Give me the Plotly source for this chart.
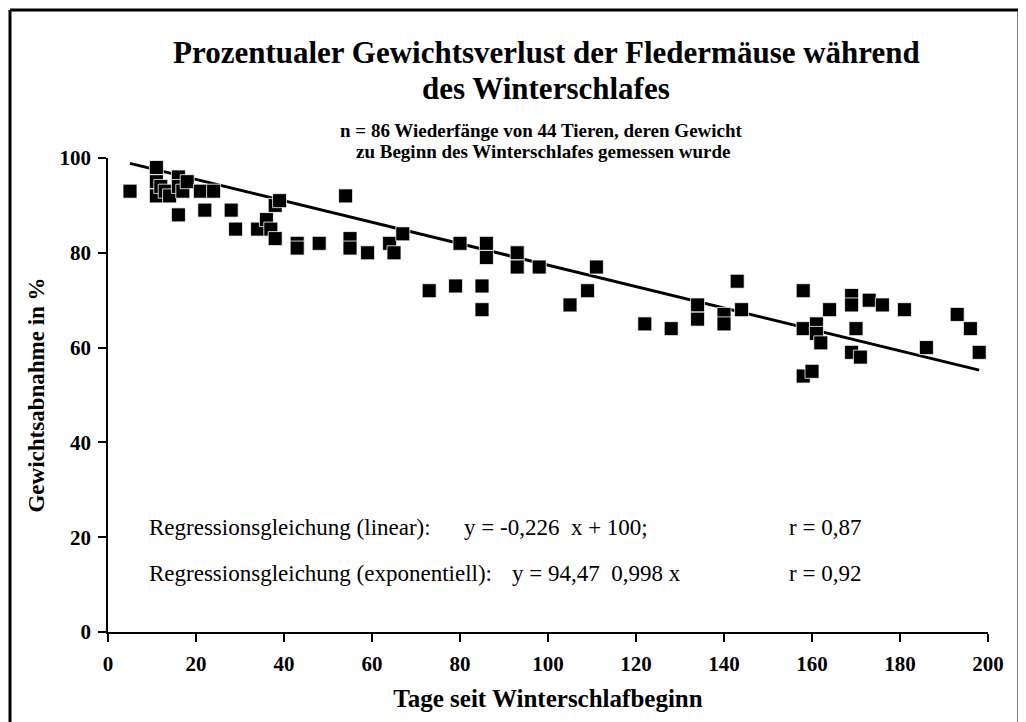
import plotly.graph_objects as go

# Data
tage = [5, 11, 11, 11, 12, 13, 14, 16, 16, 17, 18, 16, 21, 24, 22, 28, 29, 34, 36, 37,
        38, 38, 39, 43, 43, 48, 54, 55, 55, 59, 64, 65, 67, 73, 79, 80, 85, 85, 86, 86,
        93, 93, 98, 105, 109, 111, 122, 128, 134, 134, 140, 140, 143, 144, 158, 158, 161, 161, 162, 158,
        160, 164, 169, 169, 170, 169, 171, 173, 176, 181, 186, 193, 196, 198]
gewicht = [93, 98, 95, 92, 94, 93, 92, 96, 94, 93, 95, 88, 93, 93, 89, 89, 85, 85, 87, 85,
           83, 90, 91, 82, 81, 82, 92, 83, 81, 80, 82, 80, 84, 72, 73, 82, 73, 68, 82, 79,
           80, 77, 77, 69, 72, 77, 65, 64, 69, 66, 67, 65, 74, 68, 72, 64, 65, 63, 61, 54,
           55, 68, 71, 69, 64, 59, 58, 70, 69, 68, 60, 67, 64, 59]

slope = -0.226
intercept = 100.0
line_x = [min(tage), max(tage)]
line_y = [slope * v + intercept for v in line_x]

x_ticks = [0, 20, 40, 60, 80, 100, 120, 140, 160, 180, 200]
y_ticks = [0, 20, 40, 60, 80, 100]

FONT = "Liberation Serif"

# page offset (browser body margin) and geometry in screen pixels
OFF = 8
W, H = 1026 - OFF, 722 - OFF
X0, X1, Y0, Y1 = 108, 988, 632, 158   # plot area in screen pixels
L, R, T, B = X0 - OFF, 1026 - X1, Y1 - OFF, 722 - Y0
PW, PH = X1 - X0, Y0 - Y1


def px(xs):
    return (xs - X0) / PW


def py(ys):
    return (Y0 - ys) / PH


fig = go.Figure()
fig.add_trace(go.Scatter(x=line_x, y=line_y, mode="lines",
                         line=dict(color="black", width=3), showlegend=False,
                         cliponaxis=False))
fig.add_trace(go.Scatter(x=tage, y=gewicht, mode="markers",
                         marker=dict(symbol="square", size=14, color="black",
                                     line=dict(color="white", width=0.8)),
                         showlegend=False, cliponaxis=False))

tickfont = dict(family=FONT, size=21, color="black", weight="bold")
fig.update_layout(
    width=W, height=H,
    margin=dict(l=L, r=R, t=T, b=B, autoexpand=False),
    paper_bgcolor="white", plot_bgcolor="white",
    font=dict(family=FONT, color="black"),
    xaxis=dict(range=[0, 200], tickvals=x_ticks, showgrid=False, zeroline=False,
               automargin=False,
               showline=True, linecolor="black", linewidth=2,
               ticks="outside", ticklen=8, tickwidth=1.5, tickcolor="black",
               tickfont=tickfont, ticklabelstandoff=4,
               title=dict(text="Tage seit Winterschlafbeginn",
                          font=dict(family=FONT, size=25, color="black", weight="bold"),
                          standoff=14)),
    yaxis=dict(range=[0, 100], tickvals=y_ticks, showgrid=False, zeroline=False,
               automargin=False,
               showline=True, linecolor="black", linewidth=1.5,
               ticks="outside", ticklen=8, tickwidth=1.5, tickcolor="black",
               tickfont=tickfont, ticklabelstandoff=3,
               title=dict(text="Gewichtsabnahme in %",
                          font=dict(family=FONT, size=23, color="black", weight="bold"),
                          standoff=8)),
)

ann = [
    ("<b>Prozentualer Gewichtsverlust der Fledermäuse während</b>", 546, 53, 31, "center"),
    ("<b>des Winterschlafes</b>", 546, 88, 31, "center"),
    ("<b>n = 86 Wiederfänge von 44 Tieren, deren Gewicht</b>", 541, 131, 19, "center"),
    ("<b>zu Beginn des Winterschlafes gemessen wurde</b>", 543, 152, 19, "center"),
    ("Regressionsgleichung (linear):", 147, 527, 23, "left"),
    ("y = -0,226  x + 100;", 462, 527, 23, "left"),
    ("r = 0,87", 787, 527, 23, "left"),
    ("Regressionsgleichung (exponentiell):", 147, 573, 23, "left"),
    ("y = 94,47  0,998 x", 510, 573, 23, "left"),
    ("r = 0,92", 787, 573, 23, "left"),
]
for text, xs, ys, size, anchor in ann:
    fig.add_annotation(text=text, xref="paper", yref="paper", x=px(xs), y=py(ys),
                       xanchor=anchor, yanchor="middle", showarrow=False,
                       font=dict(family=FONT, size=size, color="black"))

# outer frame of the original figure (bottom edge runs off the picture)
FL, FT, FR, FB = 10, 10, 1019, 722
frame = dict(color="black", width=3)
fig.add_shape(type="line", xref="paper", yref="paper",
              x0=px(FL), x1=px(FL), y0=py(FB), y1=py(FT), line=frame)
fig.add_shape(type="line", xref="paper", yref="paper",
              x0=px(FL), x1=px(FR), y0=py(FT), y1=py(FT), line=frame)
fig.add_shape(type="line", xref="paper", yref="paper",
              x0=px(FR), x1=px(FR), y0=py(FB), y1=py(FT), line=frame)

fig.write_html("out.html")
